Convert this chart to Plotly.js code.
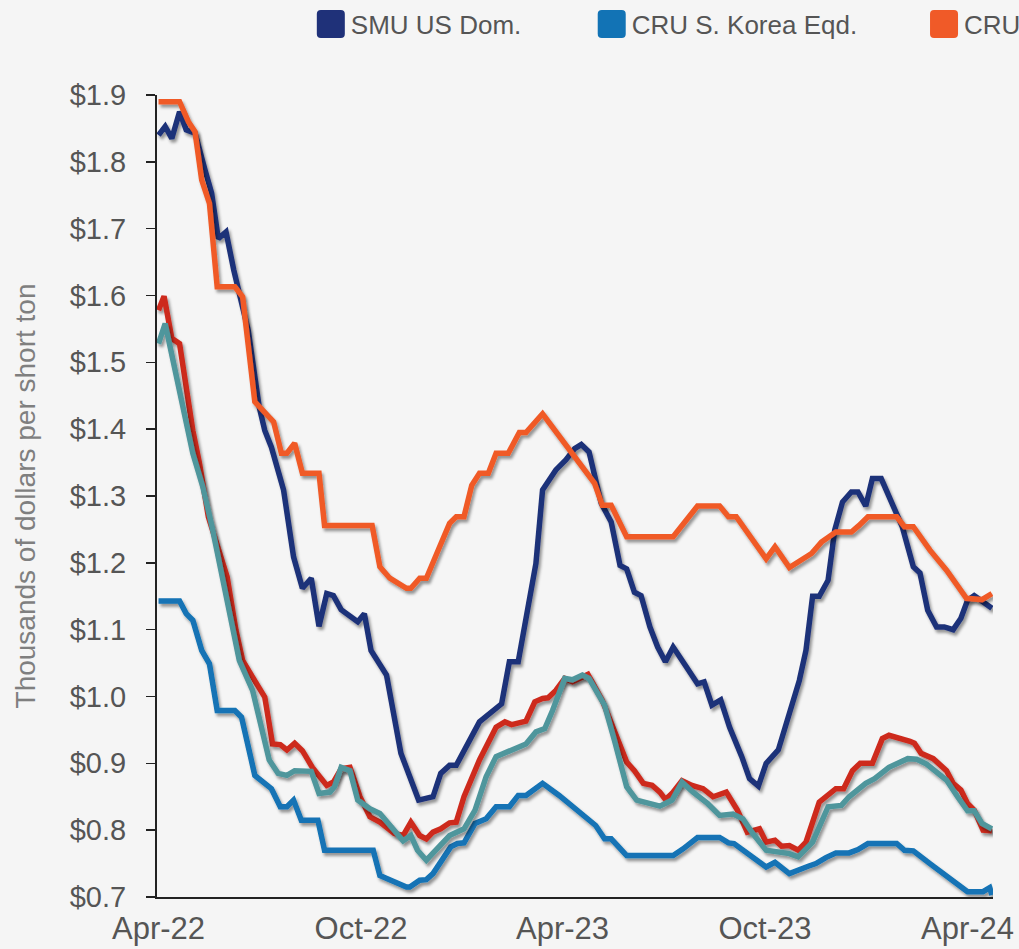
<!DOCTYPE html>
<html>
<head>
<meta charset="utf-8">
<script src="https://cdn.plot.ly/plotly-3.0.1.min.js"></script>
<style>
  body { margin: 0; background: #f5f5f5; }
  #chart { width: 1019px; height: 949px; }
  /* soft shadow under the lines, like the original */
  .scatterlayer .js-line { filter: url(#lineShadow); }
</style>
</head>
<body>
<svg width="0" height="0" style="position:absolute">
  <defs>
    <filter id="lineShadow" filterUnits="userSpaceOnUse" x="-100" y="-100" width="1300" height="1200">
      <feDropShadow dx="2" dy="3" stdDeviation="1.8" flood-color="#000000" flood-opacity="0.4"/>
    </filter>
  </defs>
</svg>
<div id="chart"></div>
<script>
/*
 * Weekly prices, thousands of dollars per short ton.
 */
var smuDates = ['2022-04-01','2022-04-07','2022-04-13','2022-04-20','2022-04-26','2022-05-04','2022-05-13','2022-05-19','2022-05-25','2022-06-01',
  '2022-06-08','2022-06-15','2022-06-21','2022-07-01','2022-07-06','2022-07-12','2022-07-23','2022-08-01','2022-08-09','2022-08-17',
  '2022-08-24','2022-08-31','2022-09-06','2022-09-13','2022-09-28','2022-10-04','2022-10-10','2022-10-24','2022-11-06','2022-11-22',
  '2022-12-05','2022-12-12','2022-12-20','2022-12-26','2023-01-16','2023-02-05','2023-02-12','2023-02-20','2023-03-02','2023-03-08',
  '2023-03-14','2023-03-26','2023-04-04','2023-04-12','2023-04-18','2023-04-25','2023-05-06','2023-05-15','2023-05-23','2023-05-29',
  '2023-06-05','2023-06-11','2023-06-19','2023-06-26','2023-07-03','2023-07-10','2023-07-22','2023-08-01','2023-08-07','2023-08-14',
  '2023-08-22','2023-08-30','2023-09-10','2023-09-17','2023-09-25','2023-10-02','2023-10-13','2023-10-23','2023-11-01','2023-11-07',
  '2023-11-13','2023-11-19','2023-11-27','2023-12-03','2023-12-10','2023-12-18','2023-12-24','2023-12-31','2024-01-06','2024-01-14',
  '2024-01-21','2024-02-02','2024-02-12','2024-02-18','2024-02-25','2024-03-04','2024-03-11','2024-03-19','2024-03-26','2024-04-01',
  '2024-04-07','2024-04-23'];
var smuPrices = [1.840,1.853,1.835,1.875,1.848,1.843,1.788,1.753,1.685,1.695,
  1.638,1.593,1.548,1.433,1.398,1.373,1.309,1.209,1.162,1.177,
  1.105,1.154,1.151,1.130,1.112,1.124,1.069,1.032,0.915,0.845,
  0.850,0.885,0.897,0.897,0.962,0.989,1.052,1.052,1.139,1.199,
  1.309,1.339,1.354,1.371,1.377,1.366,1.289,1.261,1.196,1.191,
  1.156,1.151,1.104,1.074,1.052,1.074,1.044,1.019,1.022,0.987,
  0.995,0.954,0.910,0.877,0.866,0.900,0.920,0.974,1.024,1.069,
  1.150,1.150,1.174,1.249,1.291,1.306,1.306,1.285,1.326,1.326,
  1.301,1.254,1.194,1.185,1.129,1.104,1.104,1.100,1.117,1.144,
  1.151,1.132];

var koreaDates = ['2022-04-01','2022-04-20','2022-04-26','2022-05-02','2022-05-10','2022-05-17','2022-05-24','2022-06-09','2022-06-15','2022-06-27',
  '2022-07-12','2022-07-20','2022-07-26','2022-08-01','2022-08-08','2022-08-23','2022-08-29','2022-10-12','2022-10-18','2022-10-31',
  '2022-11-11','2022-11-14','2022-11-23','2022-11-29','2022-12-05','2022-12-21','2022-12-27','2023-01-02','2023-01-12','2023-01-22',
  '2023-01-31','2023-02-12','2023-02-20','2023-02-27','2023-03-14','2023-03-29','2023-04-16','2023-05-01','2023-05-09','2023-05-15',
  '2023-05-29','2023-07-10','2023-07-19','2023-08-01','2023-08-21','2023-08-29','2023-09-03','2023-09-20','2023-10-02','2023-10-10',
  '2023-10-23','2023-11-09','2023-11-16','2023-11-25','2023-12-04','2023-12-16','2023-12-24','2024-01-02','2024-01-28','2024-02-04',
  '2024-02-12','2024-02-27','2024-03-19','2024-04-01','2024-04-15','2024-04-21','2024-04-23'];
var koreaPrices = [1.143,1.143,1.124,1.114,1.069,1.049,0.979,0.979,0.969,0.882,
  0.862,0.835,0.835,0.845,0.815,0.815,0.770,0.770,0.732,0.722,
  0.715,0.715,0.725,0.726,0.735,0.775,0.780,0.781,0.810,0.817,
  0.835,0.835,0.852,0.852,0.870,0.852,0.827,0.807,0.787,0.787,
  0.762,0.762,0.772,0.789,0.789,0.781,0.780,0.760,0.745,0.752,
  0.735,0.746,0.750,0.759,0.766,0.766,0.771,0.780,0.780,0.770,
  0.769,0.750,0.725,0.708,0.708,0.714,0.703];

var cruDates = ['2022-04-01','2022-04-20','2022-04-28','2022-05-04','2022-05-10','2022-05-17','2022-05-24','2022-06-09','2022-06-16','2022-06-27',
  '2022-07-14','2022-07-21','2022-07-26','2022-08-02','2022-08-09','2022-08-24','2022-08-29','2022-10-11','2022-10-18','2022-10-27',
  '2022-11-11','2022-11-15','2022-11-23','2022-11-29','2022-12-11','2022-12-20','2022-12-26','2023-01-02','2023-01-09','2023-01-16',
  '2023-01-24','2023-01-31','2023-02-11','2023-02-21','2023-02-27','2023-03-14','2023-04-30','2023-05-07','2023-05-15','2023-05-29',
  '2023-07-10','2023-08-01','2023-08-21','2023-08-29','2023-09-05','2023-10-02','2023-10-10','2023-10-23','2023-11-12','2023-11-21',
  '2023-12-04','2023-12-18','2023-12-25','2024-01-02','2024-01-28','2024-02-04','2024-02-12','2024-02-27','2024-03-13','2024-03-31',
  '2024-04-14','2024-04-23'];
var cruPrices = [1.890,1.890,1.860,1.845,1.773,1.738,1.613,1.613,1.598,1.441,
  1.411,1.364,1.364,1.379,1.334,1.334,1.256,1.256,1.194,1.177,
  1.162,1.162,1.177,1.177,1.224,1.259,1.269,1.269,1.316,1.334,
  1.334,1.364,1.364,1.395,1.395,1.423,1.319,1.286,1.286,1.239,
  1.239,1.285,1.285,1.269,1.269,1.206,1.224,1.193,1.214,1.231,
  1.246,1.246,1.256,1.269,1.269,1.254,1.254,1.219,1.189,1.147,
  1.145,1.154];

var redDates = ['2022-04-01','2022-04-06','2022-04-13','2022-04-20','2022-05-02','2022-05-08','2022-05-16','2022-05-24','2022-06-02','2022-06-10',
  '2022-06-16','2022-06-25','2022-07-06','2022-07-13','2022-07-20','2022-07-26','2022-08-02','2022-08-09','2022-08-18','2022-08-31',
  '2022-09-06','2022-09-13','2022-09-21','2022-09-30','2022-10-09','2022-10-18','2022-10-31','2022-11-08','2022-11-15','2022-11-23',
  '2022-11-29','2022-12-05','2022-12-12','2022-12-20','2022-12-26','2023-01-02','2023-01-16','2023-01-31','2023-02-08','2023-02-14',
  '2023-02-27','2023-03-07','2023-03-14','2023-03-19','2023-03-26','2023-04-03','2023-04-10','2023-04-24','2023-05-07','2023-05-29',
  '2023-06-05','2023-06-13','2023-06-21','2023-06-28','2023-07-03','2023-07-09','2023-07-18','2023-07-27','2023-08-06','2023-08-15',
  '2023-08-27','2023-09-06','2023-09-15','2023-09-26','2023-10-02','2023-10-10','2023-10-16','2023-10-23','2023-10-31','2023-11-07',
  '2023-11-19','2023-12-04','2023-12-11','2023-12-19','2023-12-26','2024-01-06','2024-01-15','2024-01-21','2024-01-31','2024-02-09',
  '2024-02-13','2024-02-19','2024-03-01','2024-03-13','2024-03-19','2024-03-26','2024-04-01','2024-04-07','2024-04-15','2024-04-23'];
var redPrices = [1.578,1.599,1.536,1.528,1.398,1.349,1.269,1.229,1.179,1.099,
  1.054,1.029,0.999,0.929,0.928,0.920,0.930,0.919,0.894,0.867,
  0.872,0.892,0.894,0.850,0.820,0.812,0.795,0.792,0.812,0.792,
  0.787,0.797,0.802,0.811,0.812,0.850,0.905,0.954,0.962,0.958,
  0.963,0.992,0.997,0.998,1.009,1.027,1.022,1.033,0.994,0.902,
  0.889,0.870,0.867,0.857,0.846,0.855,0.874,0.867,0.862,0.850,
  0.857,0.830,0.797,0.802,0.782,0.785,0.776,0.777,0.770,0.782,
  0.842,0.862,0.862,0.889,0.900,0.900,0.937,0.942,0.938,0.933,
  0.930,0.915,0.907,0.889,0.870,0.860,0.840,0.830,0.800,0.799];

var tealDates = ['2022-04-01','2022-04-07','2022-05-02','2022-05-11','2022-05-20','2022-06-13','2022-06-25','2022-07-10','2022-07-18','2022-07-26',
  '2022-08-02','2022-08-17','2022-08-24','2022-09-03','2022-09-07','2022-09-13','2022-09-21','2022-09-28','2022-10-09','2022-10-18',
  '2022-11-08','2022-11-15','2022-11-21','2022-11-29','2022-12-20','2023-01-02','2023-01-12','2023-01-22','2023-01-31','2023-02-12',
  '2023-02-27','2023-03-08','2023-03-16','2023-03-23','2023-04-03','2023-04-10','2023-04-19','2023-04-25','2023-05-09','2023-05-18',
  '2023-05-29','2023-06-07','2023-06-16','2023-06-28','2023-07-09','2023-07-18','2023-07-28','2023-08-10','2023-08-21','2023-09-02',
  '2023-09-11','2023-09-20','2023-10-02','2023-10-16','2023-10-23','2023-10-31','2023-11-13','2023-11-27','2023-12-09','2023-12-16',
  '2023-12-21','2023-12-31','2024-01-08','2024-01-21','2024-02-07','2024-02-15','2024-02-24','2024-03-13','2024-03-23','2024-04-01',
  '2024-04-07','2024-04-14','2024-04-23'];
var tealPrices = [1.528,1.558,1.364,1.314,1.249,1.054,1.009,0.905,0.885,0.882,
  0.889,0.888,0.855,0.857,0.865,0.894,0.889,0.845,0.832,0.825,
  0.784,0.792,0.770,0.755,0.792,0.802,0.830,0.880,0.910,0.919,
  0.929,0.947,0.952,0.979,1.027,1.025,1.032,1.027,0.987,0.934,
  0.865,0.845,0.841,0.836,0.845,0.872,0.857,0.840,0.822,0.824,
  0.817,0.795,0.770,0.767,0.765,0.760,0.782,0.835,0.837,0.850,
  0.857,0.870,0.877,0.894,0.907,0.906,0.899,0.875,0.850,0.829,
  0.829,0.810,0.802];

var tickDates = ['2022-04-01', '2022-10-01', '2023-04-01', '2023-10-01', '2024-04-01'];
var tickLabels = ['Apr-22', 'Oct-22', 'Apr-23', 'Oct-23', 'Apr-24'];

var navy = '#1f3179';
var blue = '#1273b5';
var orange = '#f05a28';
var red = '#cd2a1e';
var teal = '#4f969c';

function priceLine(x, y, name, color) {
  return {
    x: x,
    y: y,
    name: name,
    type: 'scatter',
    mode: 'lines',
    line: { color: color, width: 5.5 },
    showlegend: false,
    hoverinfo: 'x+y+name'
  };
}

// legend only entries (square swatches)
function swatch(name, color, legendId) {
  return {
    x: [null],
    y: [null],
    name: name,
    type: 'bar',
    showlegend: true,
    marker: { color: color, line: { width: 0 } },
    legend: legendId
  };
}

var data = [
  priceLine(smuDates, smuPrices, 'SMU US Dom.', navy),
  priceLine(koreaDates, koreaPrices, 'CRU S. Korea Eqd.', blue),
  priceLine(cruDates, cruPrices, 'CRU', orange),
  priceLine(redDates, redPrices, 'Series 4', red),
  priceLine(tealDates, tealPrices, 'Series 5', teal),
  swatch('SMU US Dom.', navy, 'legend'),
  swatch('CRU S. Korea Eqd.', blue, 'legend2'),
  swatch('CRU', orange, 'legend3')
];

var legendFont = { family: '"Liberation Sans", Arial, sans-serif', size: 26, color: '#555555' };

function legendAt(x) {
  return {
    x: x,
    y: 1.0885,
    xanchor: 'left',
    yanchor: 'middle',
    orientation: 'h',
    bgcolor: 'rgba(0,0,0,0)',
    font: legendFont
  };
}

var layout = {
  width: 1019,
  height: 949,
  paper_bgcolor: '#f5f5f5',
  plot_bgcolor: '#f5f5f5',
  margin: { l: 157, r: 26, t: 95, b: 52, autoexpand: false },
  font: { family: '"Liberation Sans", Arial, sans-serif', color: '#555555' },
  xaxis: {
    type: 'date',
    range: ['2022-03-30 15:00', '2024-04-24'],
    tickvals: tickDates,
    ticktext: tickLabels,
    ticks: '',
    showgrid: false,
    zeroline: false,
    showline: true,
    linecolor: '#222222',
    linewidth: 2,
    ticklabelstandoff: 3,
    tickfont: { size: 31, color: '#555555' }
  },
  yaxis: {
    range: [0.7, 1.9],
    dtick: 0.1,
    tick0: 0.7,
    tickformat: '$.1f',
    ticks: 'outside',
    ticklen: 9,
    tickwidth: 1.5,
    tickcolor: '#222222',
    ticklabelstandoff: 14,
    showgrid: false,
    zeroline: false,
    showline: true,
    linecolor: '#222222',
    linewidth: 2,
    tickfont: { size: 29, color: '#555555' },
    title: {
      text: 'Thousands of dollars per short ton',
      standoff: 26,
      font: { size: 28, color: '#7f7f7f' }
    }
  },
  showlegend: true,
  legend: legendAt(0.184),
  legend2: legendAt(0.520),
  legend3: legendAt(0.9175)
};

Plotly.newPlot('chart', data, layout, { displayModeBar: false, staticPlot: true }).then(function (gd) {
  // swap the small legend squares for larger rounded ones, in every legend
  var square = 'M-10,-14H10A4,4 0 0 1 14,-10V10A4,4 0 0 1 10,14H-10A4,4 0 0 1 -14,10V-10A4,4 0 0 1 -10,-14Z';
  gd.querySelectorAll('.legendpoints path').forEach(function (p) {
    p.setAttribute('d', square);
  });
});
</script>
</body>
</html>
